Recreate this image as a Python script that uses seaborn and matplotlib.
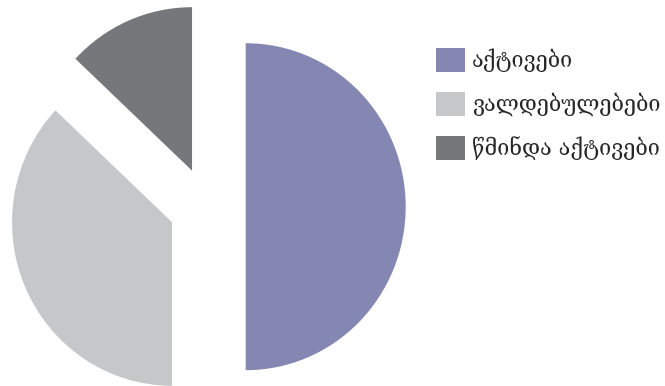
import matplotlib
matplotlib.use('Agg')
import matplotlib.pyplot as plt
import matplotlib.patches as mpatches
import seaborn as sns

# data
labels = ['აქტივები', 'ვალდებულებები', 'წმინდა აქტივები']
shares = [50, 37, 13]
colors = ['#8587b3', '#c6c7c9', '#76777b']

sns.set_theme(style='white')
plt.rcParams['font.family'] = ['DejaVu Serif', 'DejaVu Sans']

fig = plt.figure(figsize=(6.65, 3.86), dpi=100)
ax = fig.add_axes([0, 0, 420 / 665, 1])

ax.pie(shares, colors=colors, startangle=90, counterclock=False,
       explode=[0.24] * 3, wedgeprops=dict(linewidth=0))
ax.set_aspect('auto')
# pie centre at about (207, 207) px, radius ~160 px wide, ~163 px tall
ax.set_xlim(-207.3 / 160, (420 - 207.3) / 160)
ax.set_ylim(-(386 - 206.7) / 163.5, 206.7 / 163.5)
ax.axis('off')

handles = [mpatches.Patch(facecolor=c, edgecolor='none') for c in colors]
fig.legend(handles, labels, loc='upper left', bbox_to_anchor=(436 / 665, 1 - 48 / 386),
           frameon=False, fontsize=15.6, handlelength=1.36, handleheight=1.32,
           handletextpad=0.3, labelspacing=0.9, borderaxespad=0, borderpad=0)

fig.savefig('out.png', dpi=100)
